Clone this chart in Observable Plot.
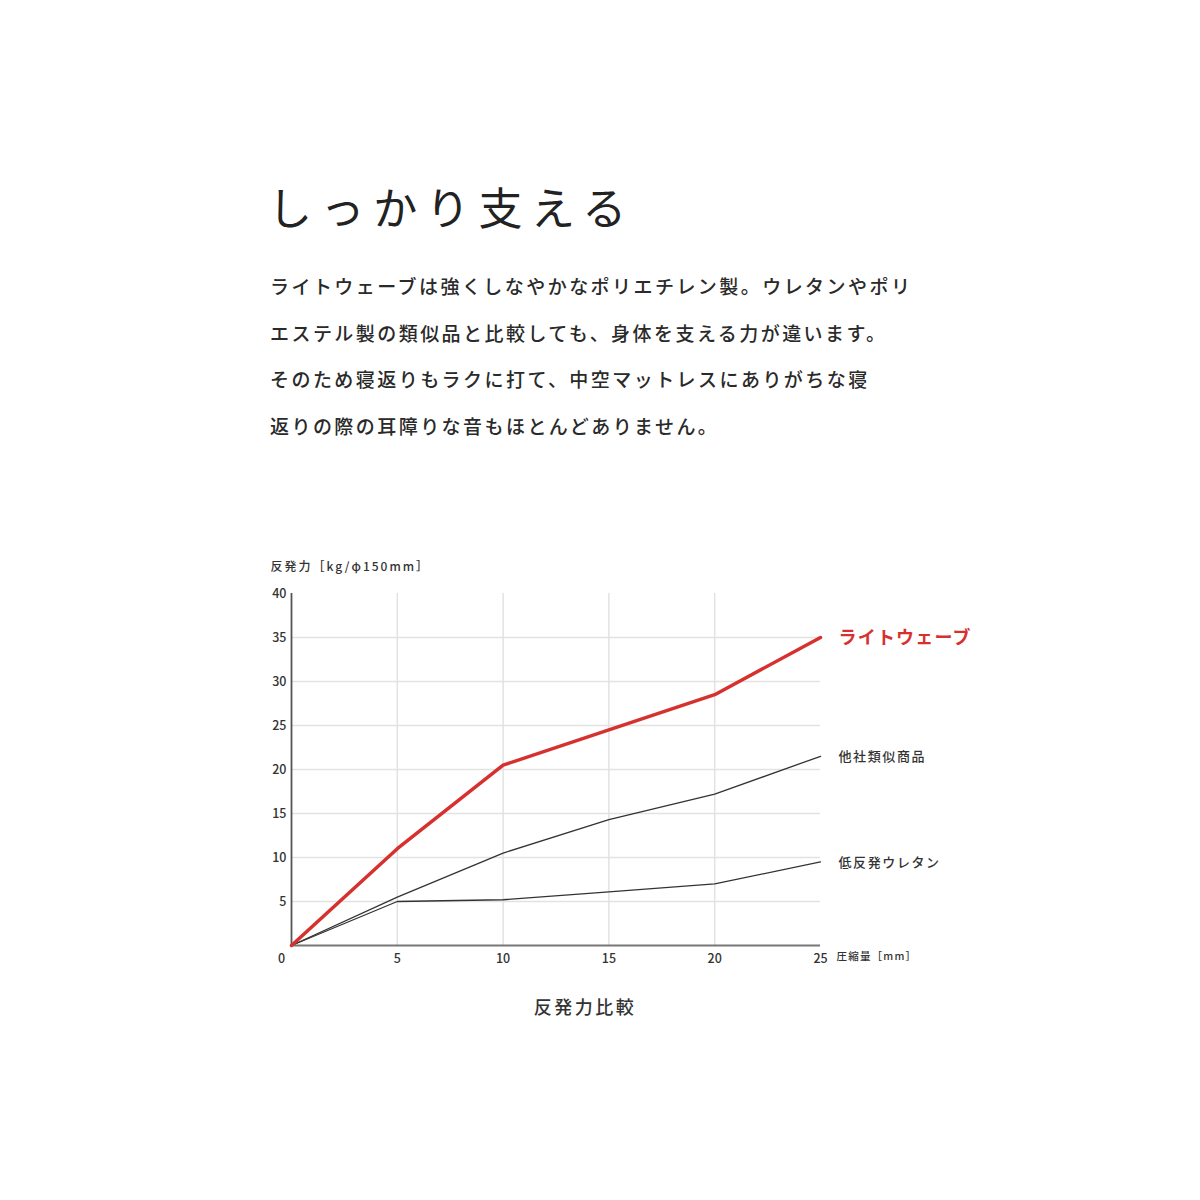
<!DOCTYPE html>
<html lang="ja">
<head>
<meta charset="utf-8">
<script src="https://cdn.jsdelivr.net/npm/d3@7"></script>
<script src="https://cdn.jsdelivr.net/npm/@observablehq/plot@0.6"></script>
<style>
  html, body { margin: 0; padding: 0; background: #fff; }
  body { font-family: "Noto Sans CJK JP", "Noto Sans", sans-serif; color: #222; }
  #page { position: relative; width: 1200px; height: 1200px; overflow: hidden; }
  #title { position: absolute; left: 268px; top: 176px; font-size: 44px; font-weight: 400; letter-spacing: 8.6px; line-height: 60px; color: #222; white-space: nowrap; }
  #lead { position: absolute; left: 270px; top: 263px; font-size: 19px; font-weight: 500; letter-spacing: 2.45px; line-height: 46.7px; color: #2a2a2a; white-space: nowrap; }
  #chart { position: absolute; left: 0; top: 540px; }
  #caption { position: absolute; left: 0; width: 1170px; text-align: center; top: 993px; font-size: 18px; font-weight: 500; letter-spacing: 2.5px; color: #333; }
</style>
</head>
<body>
<div id="page">
  <div id="title">しっかり支える</div>
  <div id="lead">ライトウェーブは強くしなやかなポリエチレン製。ウレタンやポリ<br>エステル製の類似品と比較しても、身体を支える力が違います。<br>そのため寝返りもラクに打て、中空マットレスにありがちな寝<br>返りの際の耳障りな音もほとんどありません。</div>
  <div id="chart"></div>
  <div id="caption">反発力比較</div>
</div>
<script>
// ---- data ----
const compression = [0, 5, 10, 15, 20, 25];          // 圧縮量 [mm]
const lightwave   = [0, 11, 20.5, 24.5, 28.5, 35];   // ライトウェーブ
const competitor  = [0, 5.5, 10.5, 14.3, 17.2, 21.5];// 他社類似商品
const urethane    = [0, 5, 5.2, 6.1, 7, 9.5];        // 低反発ウレタン
const seriesNames = ["ライトウェーブ", "他社類似商品", "低反発ウレタン"];
const xTicks = [5, 10, 15, 20, 25];
const yTicks = [5, 10, 15, 20, 25, 30, 35, 40];
const xGrid = [5, 10, 15, 20];
const yGrid = [5, 10, 15, 20, 25, 30, 35];
const yLabel = "反発力［kg/φ150mm］";
const xLabel = "圧縮量［mm］";

const seriesValues = [lightwave, competitor, urethane];
const rows = seriesNames.flatMap((name, i) =>
  compression.map((x, j) => ({series: name, x, y: seriesValues[i][j]})));
const lastPoints = seriesNames.map((name, i) => ({series: name, x: compression[compression.length - 1], y: seriesValues[i][compression.length - 1]}));

const red = "#d6312f";
const dark = "#333";

const chart = Plot.plot({
  width: 1200,
  height: 500,
  marginLeft: 291,
  marginRight: 380,
  marginTop: 53,
  marginBottom: 95,
  style: {fontFamily: '"Noto Sans CJK JP", "Noto Sans", sans-serif', background: "transparent", overflow: "visible"},
  x: {domain: [0, 25]},
  y: {domain: [0, 40]},
  marks: [
    Plot.ruleX(xGrid, {stroke: "#e2e2e2", strokeWidth: 1.5}),
    Plot.ruleY(yGrid, {stroke: "#e2e2e2", strokeWidth: 1.5}),
    Plot.ruleX([0], {stroke: "#555", strokeWidth: 1.8}),
    Plot.ruleY([0], {stroke: "#777", strokeWidth: 1.8}),
    Plot.line(rows.filter(d => d.series !== seriesNames[0]), {x: "x", y: "y", z: "series", stroke: dark, strokeWidth: 1.3}),
    Plot.line(rows.filter(d => d.series === seriesNames[0]), {x: "x", y: "y", stroke: red, strokeWidth: 3.5}),
    Plot.axisY(yTicks, {tickSize: 0, tickPadding: 5, fontSize: 12.5, fontWeight: 500, fill: dark, label: null}),
    Plot.axisX(xTicks, {tickSize: 0, tickPadding: 9, fontSize: 12.5, fontWeight: 500, fill: dark, label: null}),
    Plot.axisX([0], {tickSize: 0, tickPadding: 9, dx: -10, fontSize: 12.5, fontWeight: 500, fill: dark, label: null}),
    Plot.text(lastPoints.filter(d => d.series === seriesNames[0]), {x: "x", y: "y", text: "series", dx: 18, dy: 1, textAnchor: "start", fill: red, fontSize: 18, fontWeight: 700, letterSpacing: 0.4}),
    Plot.text(lastPoints.filter(d => d.series !== seriesNames[0]), {x: "x", y: "y", text: "series", dx: 18, dy: 1, textAnchor: "start", fill: dark, fontSize: 13, fontWeight: 500, style: "letter-spacing:1.3px"}),
    Plot.text([yLabel], {frameAnchor: "top-left", dx: -21, dy: -31, textAnchor: "start", fill: dark, fontSize: 12, fontWeight: 500}),
    Plot.text([xLabel], {frameAnchor: "bottom-right", dx: 16, dy: 14, textAnchor: "start", fill: dark, fontSize: 10.5, fontWeight: 500})
  ]
});
// letter spacing for annotation labels
chart.querySelectorAll("text").forEach(t => {
  const s = t.textContent;
  if (s === seriesNames[0]) t.setAttribute("letter-spacing", "1.2");
  else if (seriesNames.includes(s)) t.setAttribute("letter-spacing", "1.6");
  else if (s === yLabel) t.setAttribute("letter-spacing", "2");
  else if (s === xLabel) t.setAttribute("letter-spacing", "1.2");
});
document.getElementById("chart").appendChild(chart);
</script>
</body>
</html>
